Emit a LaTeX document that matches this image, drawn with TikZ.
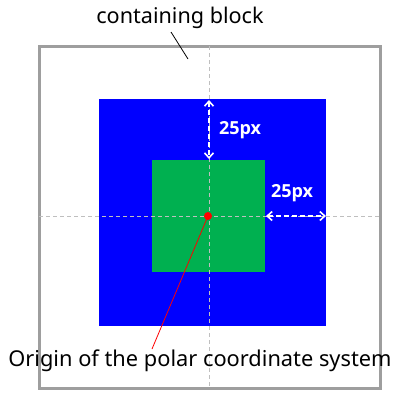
\documentclass[tikz,border=0pt]{standalone}
\usepackage{fontspec}
\setmainfont{Noto Sans}
\newfontfamily\lblfont{Open Sans}
\usetikzlibrary{arrows.meta}
\begin{document}
\begin{tikzpicture}[x=1pt,y=-1pt,
  guide/.style={draw=black!25,line width=0.8pt,dash pattern=on 4pt off 3pt},
  measure/.style={draw=white,line width=1.6pt,dash pattern=on 5pt off 3pt,{Straight Barb[length=5pt,width=9pt]}-{Straight Barb[length=5pt,width=9pt]}},
  lbl/.style={text=white,font=\lblfont\bfseries\fontsize{18}{20}\selectfont,inner sep=0pt}]
\useasboundingbox (0,0) rectangle (400,400);
\fill[white] (0,0) rectangle (400,400);
\draw[black!38,line width=3pt] (39,46) rectangle (380,388);
\fill[blue] (99,99) rectangle (326,326);
\fill[fill={rgb,255:red,0;green,176;blue,80}] (152,160) rectangle (265,272);
\coordinate (vt) at (209,46);
\coordinate (vb) at (209,388);
\coordinate (hl) at (39,216);
\coordinate (hr) at (380,216);
\draw[guide] (vt) -- (vb);
\draw[guide] (hl) -- (hr);
\coordinate (a1) at (209,100);
\coordinate (a2) at (209,159);
\draw[measure] (a1) -- (a2);
\coordinate (b1) at (266,216);
\coordinate (b2) at (326,216);
\draw[measure] (b1) -- (b2);
\node[lbl] (l1) at (240,130) {25px};
\node[lbl] (l2) at (292,193) {25px};
\node[circle,fill=red,inner sep=0pt,minimum size=8pt] (o) at (208,216) {};
\node[font=\fontsize{21.6}{24}\selectfont,inner sep=0pt] (t1) at (180,18) {containing block};
\node[font=\fontsize{21.8}{24}\selectfont,inner sep=0pt] (t2) at (200,361) {Origin of the polar coordinate system};
\coordinate (c1) at (171,32);
\coordinate (c2) at (188,59);
\draw[black,line width=0.8pt] (c1) -- (c2);
\coordinate (r1) at (152,349);
\draw[red,line width=0.8pt] (o.center) -- (r1);
\end{tikzpicture}
\end{document}
